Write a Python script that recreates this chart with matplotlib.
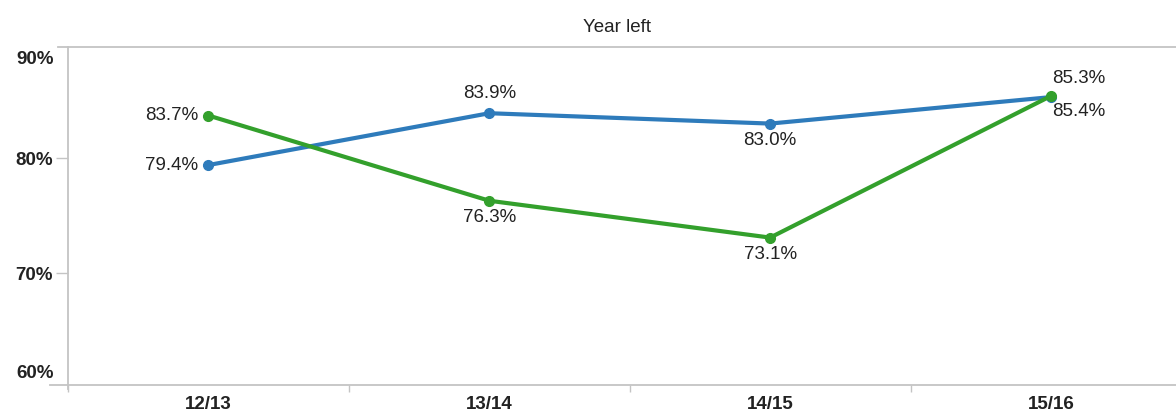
import numpy as np
import matplotlib.pyplot as plt

plt.rcParams['font.family'] = ['Liberation Sans', 'DejaVu Sans']

# data
years = ['12/13', '13/14', '14/15', '15/16']
blue_vals = [79.4, 83.9, 83.0, 85.3]
green_vals = [83.7, 76.3, 73.1, 85.4]

# label placement per point: (dx pixels, dy pixels, ha, va)
blue_pos = [(-10, 0, 'right', 'center'), (0, 11, 'center', 'bottom'),
            (0, -8, 'center', 'top'), (28, 10, 'center', 'bottom')]
green_pos = [(-10, 0, 'right', 'center'), (0, -8, 'center', 'top'),
             (0, -8, 'center', 'top'), (28, -7, 'center', 'top')]

BLUE = '#2e7bbb'
GREEN = '#33a02c'
GRID = '#c4c4c4'
TXT = '#222222'

fig = plt.figure(figsize=(11.76, 4.11), dpi=100)
W, H = 1176, 411
ax = fig.add_axes([68 / W, (H - 385) / H, 1 - 68 / W, (385 - 47) / H])

x = np.arange(len(years))
ax.plot(x, blue_vals, color=BLUE, lw=3.0, marker='o', ms=7, zorder=3)
ax.plot(x, green_vals, color=GREEN, lw=3.0, marker='o', ms=7, zorder=3)

for vals, pos in ((blue_vals, blue_pos), (green_vals, green_pos)):
    for xi, v, (dx, dy, ha, va) in zip(x, vals, pos):
        ax.annotate(f'{v:.1f}%', (xi, v), xytext=(dx * 0.72, dy * 0.72),
                    textcoords='offset points', ha=ha, va=va,
                    fontsize=13.5, color=TXT)

ax.set_xlim(-0.5, 3.445)
ax.set_ylim(60.3, 89.65)

# category boundaries carry the tick marks, names sit between them
ax.set_xticks(np.arange(-0.5, 3.5, 1.0))
ax.set_xticklabels([])
ax.set_xticks(x, minor=True)
ax.set_xticklabels(years, minor=True, fontsize=13.5, fontweight='bold',
                   color=TXT)
ax.tick_params(axis='x', which='minor', length=0, pad=8)
ax.tick_params(axis='x', which='major', length=5, color=GRID, width=1)

ax.set_yticks([70, 80])
ax.set_yticklabels(['70%', '80%'], fontsize=13.5, fontweight='bold',
                   color=TXT)
ax.tick_params(axis='y', length=9, color=GRID, width=1, pad=2)
ax.text(-0.013, 88.6, '90%', transform=ax.get_yaxis_transform(),
        ha='right', va='center', fontsize=13.5, fontweight='bold', color=TXT)
ax.text(-0.013, 61.3, '60%', transform=ax.get_yaxis_transform(),
        ha='right', va='center', fontsize=13.5, fontweight='bold', color=TXT)

for s in ('top', 'right'):
    ax.spines[s].set_visible(False)
for s in ('left', 'bottom'):
    ax.spines[s].set_color(GRID)
    ax.spines[s].set_linewidth(1.3)

# frame lines that run past the axes corner
ax.plot([-10 / 1108, 1], [1, 1], transform=ax.transAxes, color=GRID,
        lw=1.3, clip_on=False)
ax.plot([-18 / 1108, 0], [0, 0], transform=ax.transAxes, color=GRID,
        lw=1.3, clip_on=False)
ax.plot([0, 0], [0, -4 / 338], transform=ax.transAxes, color=GRID,
        lw=1.3, clip_on=False)

fig.text(617 / W, 1 - 27 / H, 'Year left', ha='center', va='center',
         fontsize=13.5, color=TXT)

fig.savefig('out.png', dpi=100, facecolor='white')
